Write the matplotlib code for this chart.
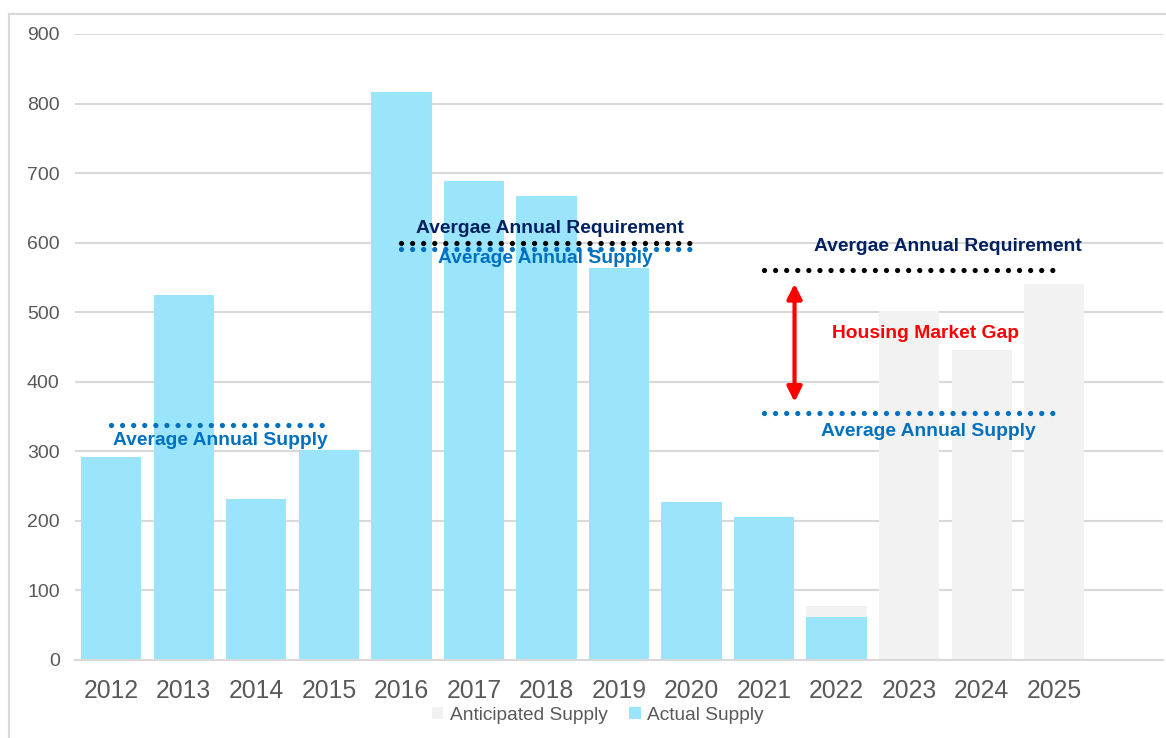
import matplotlib
matplotlib.use("Agg")
import matplotlib.pyplot as plt
from matplotlib.patches import FancyArrowPatch
from matplotlib.lines import Line2D
import numpy as np

years = ["2012", "2013", "2014", "2015", "2016", "2017", "2018", "2019",
         "2020", "2021", "2022", "2023", "2024", "2025"]
actual_supply = [292, 525, 232, 302, 816, 688, 667, 563, 227, 205, 62, 0, 0, 0]
anticipated_supply = [0, 0, 0, 0, 0, 0, 0, 0, 0, 0, 16, 502, 445, 540]

# reference lines: (x_start, x_end, value)
supply_avg_1 = (0.0, 2.95, 338)
requirement_avg_2 = (4.0, 8.02, 600)
supply_avg_2 = (4.0, 8.02, 591)
requirement_avg_3 = (9.0, 13.05, 561)
supply_avg_3 = (9.0, 13.05, 355)
gap_arrow = (9.42, 541, 371)

plt.rcParams['font.family'] = ['Liberation Sans', 'DejaVu Sans']

W, H = 1166, 738
fig = plt.figure(figsize=(W / 100, H / 100), dpi=100)
ax = fig.add_axes([75 / W, 1 - 660 / H, (1163 - 75) / W, (660 - 34) / H])

x = np.arange(len(years))
c_actual = "#9be5fc"
c_antic = "#f2f2f2"
ax.bar(x, actual_supply, width=0.83, color=c_actual, zorder=2, label="Actual Supply")
ax.bar(x, anticipated_supply, width=0.83, bottom=actual_supply, color=c_antic,
       zorder=2, label="Anticipated Supply")

ax.set_xlim(-0.5, 14.5)
ax.set_ylim(0, 900)
ax.set_yticks(np.arange(0, 901, 100))
ax.set_xticks(x)
ax.set_xticklabels(years)
ax.grid(axis="y", color="#d9d9d9", linewidth=1.5, zorder=0)
ax.set_axisbelow(True)
for s in ["top", "right", "left"]:
    ax.spines[s].set_visible(False)
ax.spines["bottom"].set_color("#d9d9d9")
ax.spines["bottom"].set_linewidth(1.5)
ax.tick_params(axis="both", length=0, colors="#595959")
ax.tick_params(axis="y", labelsize=14, pad=11)
ax.tick_params(axis="x", labelsize=17.8, pad=14)

navy = "#002060"
blue = "#0070c0"

def dotted(seg, color):
    x0, x1, v = seg
    ax.plot([x0, x1], [v, v], color=color, linewidth=3.8,
            linestyle=(0, (0.001, 2.1)), dash_capstyle="round", zorder=4)

dotted(supply_avg_1, blue)
dotted(supply_avg_2, blue)
dotted(requirement_avg_2, "black")
dotted(supply_avg_3, blue)
dotted(requirement_avg_3, "black")

tkw = dict(fontsize=13.9, fontweight="bold", ha="center", va="center", zorder=5)
ax.text(1.5, 315, "Average Annual Supply", color=blue, **tkw)
ax.text(6.05, 620, "Avergae Annual Requirement", color=navy, **tkw)
ax.text(5.98, 577, "Average Annual Supply", color=blue, **tkw)
ax.text(11.53, 594, "Avergae Annual Requirement", color=navy, **tkw)
ax.text(11.27, 329, "Average Annual Supply", color=blue, **tkw)
ax.text(11.22, 470, "Housing Market Gap", color="#ff0000", **tkw)

ax_x, ay0, ay1 = gap_arrow
arr = FancyArrowPatch((ax_x, ay1), (ax_x, ay0), arrowstyle="<|-|>",
                      mutation_scale=22, color="#ff0000", linewidth=3, zorder=5,
                      shrinkA=0, shrinkB=0)
ax.add_patch(arr)

handles, labels = ax.get_legend_handles_labels()
leg = fig.legend(handles[::-1], labels[::-1], loc="center", bbox_to_anchor=(598 / W, 1 - 715 / H),
                 ncol=2, frameon=False, fontsize=13.8, handlelength=0.6, handleheight=0.6,
                 handletextpad=0.35, columnspacing=1.1, labelcolor="#595959")

# chart border (left and top visible)
bx, by = 9 / W, 1 - 14 / H
fig.add_artist(Line2D([bx, bx], [0, by], transform=fig.transFigure, color="#d9d9d9", linewidth=1.5))
fig.add_artist(Line2D([bx, 1], [by, by], transform=fig.transFigure, color="#d9d9d9", linewidth=1.5))

fig.savefig("out.png", dpi=100)
